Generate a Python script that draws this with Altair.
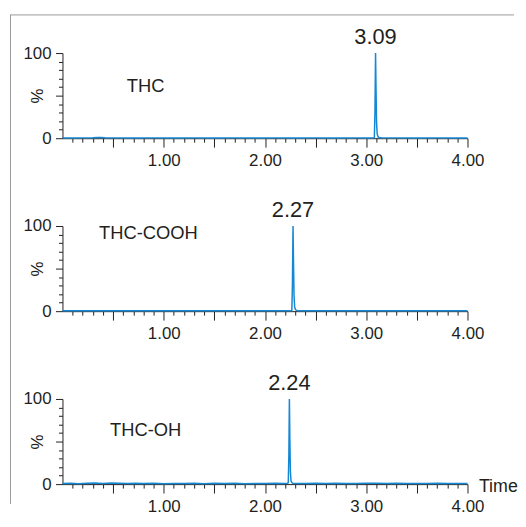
import altair as alt
import pandas as pd

# ---------------- data ----------------
compounds = ["THC", "THC-COOH", "THC-OH"]
peak_labels = ["3.09", "2.27", "2.24"]
peak_times = [3.092, 2.277, 2.241]

thc_t = [0.00, 0.10, 0.20, 0.30, 0.35, 0.38, 0.42, 0.50, 0.70, 0.90, 1.10, 1.30,
         1.50, 1.70, 1.90, 2.10, 2.30, 2.50, 2.70, 2.90, 3.00, 3.070, 3.080,
         3.086, 3.092, 3.097, 3.102, 3.108, 3.116, 3.126, 3.15, 3.30, 3.50,
         3.70, 3.90, 4.00]
thc_v = [0.4, 0.3, 0.4, 0.5, 0.8, 0.9, 0.6, 0.4, 0.3, 0.4, 0.3, 0.4,
         0.3, 0.4, 0.3, 0.4, 0.3, 0.4, 0.3, 0.4, 0.3, 0.4, 0.6,
         30.0, 100.0, 55.0, 18.0, 5.0, 1.8, 0.9, 0.5, 0.4, 0.3,
         0.4, 0.3, 0.3]

cooh_t = [0.00, 0.15, 0.30, 0.45, 0.60, 0.80, 1.00, 1.20, 1.40, 1.60, 1.80,
          2.00, 2.15, 2.250, 2.265, 2.271, 2.277, 2.282, 2.287, 2.293,
          2.301, 2.311, 2.33, 2.40, 2.60, 2.80, 3.00, 3.20, 3.40, 3.60,
          3.80, 4.00]
cooh_v = [0.4, 0.5, 0.4, 0.5, 0.4, 0.5, 0.4, 0.5, 0.4, 0.5, 0.4,
          0.5, 0.4, 0.5, 0.7, 30.0, 100.0, 55.0, 18.0, 5.0,
          1.8, 0.9, 0.6, 0.5, 0.4, 0.5, 0.4, 0.5, 0.4, 0.5,
          0.4, 0.4]

oh_t = [0.00, 0.08, 0.16, 0.24, 0.32, 0.40, 0.48, 0.56, 0.64, 0.72, 0.80,
        0.90, 1.00, 1.10, 1.20, 1.30, 1.40, 1.50, 1.60, 1.70, 1.80, 1.90,
        2.00, 2.10, 2.18, 2.220, 2.230, 2.236, 2.241, 2.246, 2.251, 2.257,
        2.265, 2.275, 2.30, 2.40, 2.50, 2.60, 2.70, 2.80, 2.90, 3.00,
        3.10, 3.20, 3.30, 3.40, 3.50, 3.60, 3.70, 3.80, 3.90, 4.00]
oh_v = [0.6, 0.9, 0.5, 1.0, 1.2, 0.8, 1.3, 1.1, 0.7, 1.0, 0.6,
        0.9, 0.5, 0.8, 0.6, 0.9, 0.5, 1.0, 0.7, 0.9, 0.5, 0.8,
        0.6, 0.9, 0.7, 1.0, 1.5, 35.0, 100.0, 50.0, 15.0, 4.0,
        1.8, 1.0, 0.8, 0.6, 0.9, 0.7, 1.0, 0.8, 0.6, 0.9,
        1.0, 0.7, 0.9, 0.6, 0.8, 0.7, 0.9, 0.6, 0.8, 0.7]

series_t = [thc_t, cooh_t, oh_t]
series_v = [thc_v, cooh_v, oh_v]

x_tick_values = [round(0.1 * i, 1) for i in range(1, 41)]
y_tick_values = [0, 10, 20, 30, 40, 50, 60, 70, 80, 90, 100]

# ---------------- styling / layout ----------------
BLUE = "#1588d4"
INK = "#231f20"
BORDER = "#9a9a9a"
FONT = "Liberation Sans"

W, H = 409, 86
GAP = 88.65

name_pos = [(65, 33), (37, 7), (48, 31)]
left_border_y = [(-38.5, H + GAP), (0, H + GAP), (0, 106)]


def panel(i):
    df = pd.DataFrame({"t": series_t[i], "v": series_v[i]})
    last = i == 2
    xaxis = alt.Axis(
        values=x_tick_values,
        tickCount=200,
        labelExpr="abs(datum.value - round(datum.value)) < 0.001 ? format(datum.value, '.2f') : ''",
        tickSize={"condition": {"test": "abs(datum.value * 2 - round(datum.value * 2)) < 0.001", "value": 9}, "value": 4},
        labelFlush=False,
        labelOverlap=False,
        labelPadding=5.5,
        labelFontSize=17,
        grid=False,
        title="Time" if last else "",
        titleX=W + 11,
        titleY=2,
        titleAlign="left",
        titleBaseline="middle",
        titleFontSize=18,
        titleFontWeight="normal",
    )
    yaxis = alt.Axis(
        values=y_tick_values,
        tickCount=200,
        labelExpr="datum.value == 0 || datum.value == 100 ? datum.value : ''",
        tickSize={"condition": {"test": "datum.value % 50 == 0", "value": 7}, "value": 4},
        labelPadding=4.5,
        labelFontSize=17,
        labelOverlap=False,
        grid=False,
        title="%",
        titleAngle=270,
        titleX=-25,
        titleY=H / 2,
        titleAlign="center",
        titleBaseline="middle",
        titleFontSize=17,
        titleFontWeight="normal",
    )
    line = alt.Chart(df).mark_line(color=BLUE, strokeWidth=1.5).encode(
        x=alt.X("t:Q", scale=alt.Scale(domain=[0, 4], nice=False, zero=False), axis=xaxis),
        y=alt.Y("v:Q", scale=alt.Scale(domain=[0, 100], nice=False), axis=yaxis),
    )
    peak = alt.Chart(pd.DataFrame({"t": [peak_times[i]], "v": [100], "lab": [peak_labels[i]]})).mark_text(
        baseline="bottom", dy=-4, fontSize=22, color=INK, font=FONT
    ).encode(x="t:Q", y="v:Q", text="lab:N")
    nx, ny = name_pos[i]
    name = alt.Chart(pd.DataFrame({"name": [compounds[i]]})).mark_text(
        align="left", baseline="middle", fontSize=18.5, color=INK, font=FONT
    ).encode(x=alt.value(nx), y=alt.value(ny), text="name:N")
    y0, y1 = left_border_y[i]
    one = pd.DataFrame({"a": [0]})
    lborder = alt.Chart(one).mark_rule(color=BORDER, strokeWidth=1).encode(
        x=alt.value(-52.5), y=alt.value(y0), y2=alt.value(y1)
    )
    layers = [lborder, line, peak, name]
    if i == 0:
        tborder = alt.Chart(one).mark_rule(color=BORDER, strokeWidth=1).encode(
            x=alt.value(-53), x2=alt.value(456), y=alt.value(-38.5)
        )
        layers.insert(0, tborder)
    return alt.layer(*layers).properties(width=W, height=H)


chart = alt.vconcat(panel(0), panel(1), panel(2), spacing=GAP, bounds="flush").properties(
    padding={"left": 1, "top": 4, "right": 0, "bottom": 0}
).configure(font=FONT).configure_view(strokeWidth=0).configure_axis(
    domainColor=INK,
    tickColor=INK,
    labelColor=INK,
    titleColor=INK,
    labelFont=FONT,
    titleFont=FONT,
    domainWidth=1,
    tickWidth=1,
)

chart.save("out.html", embed_options={"renderer": "svg", "actions": False})
